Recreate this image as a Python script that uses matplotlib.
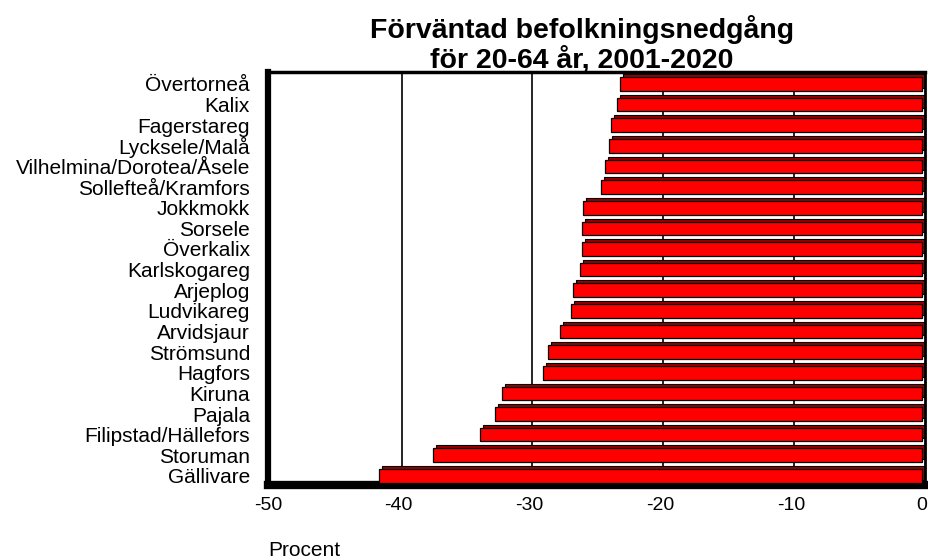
import matplotlib
matplotlib.use("Agg")
import matplotlib.pyplot as plt
import matplotlib.transforms as mtransforms

categories = ["Övertorneå", "Kalix", "Fagerstareg", "Lycksele/Malå",
              "Vilhelmina/Dorotea/Åsele", "Sollefteå/Kramfors", "Jokkmokk",
              "Sorsele", "Överkalix", "Karlskogareg", "Arjeplog", "Ludvikareg",
              "Arvidsjaur", "Strömsund", "Hagfors", "Kiruna", "Pajala",
              "Filipstad/Hällefors", "Storuman", "Gällivare"]
values = [-23.1, -23.3, -23.8, -23.9, -24.2, -24.5, -25.9, -26.0, -26.0, -26.1,
          -26.7, -26.8, -27.7, -28.6, -29.0, -32.1, -32.6, -33.8, -37.4, -41.5]
xticks = [-50, -40, -30, -20, -10, 0]
title = "Förväntad befolkningsnedgång\nför 20-64 år, 2001-2020"
xlabel = "Procent"

plt.rcParams['font.family'] = ['Liberation Sans', 'DejaVu Sans']

fig = plt.figure(figsize=(9.29, 5.6), dpi=100)
ax = fig.add_axes([268/929, 1 - 485/560, (925 - 268)/929, (485 - 72)/560])

n = len(categories)
ypos = [n - 1 - i for i in range(n)]
h = 0.66

ax.set_xlim(-50, 0.25)
ax.set_ylim(-0.44, 19.58)

off = mtransforms.offset_copy(ax.transData, fig=fig, x=3, y=3, units='dots')

# gridlines on back wall
for t in xticks[1:-1]:
    ax.plot([t, t], [-0.44, 19.58], color='black', lw=1.2, zorder=0,
            transform=off, clip_on=True)

# 3D shadow (top and right faces)
ax.barh(ypos, values, height=h, left=0, color='#9b0000', edgecolor='black',
        linewidth=0.8, transform=off, zorder=2)
# front faces
ax.barh(ypos, values, height=h, color='#ff0000', edgecolor='black',
        linewidth=0.9, zorder=3)

ax.set_yticks(ypos)
ax.set_yticklabels(categories, fontsize=15)
ax.set_xticks(xticks)
ax.set_xticklabels([str(t) for t in xticks], fontsize=14)
ax.tick_params(axis='both', length=0)
ax.tick_params(axis='y', pad=13)
ax.tick_params(axis='x', pad=9)

for s in ['left', 'bottom', 'top', 'right']:
    ax.spines[s].set_color('black')
ax.spines['left'].set_linewidth(4.5)
ax.spines['bottom'].set_linewidth(6)
ax.spines['top'].set_linewidth(2.5)
ax.spines['right'].set_linewidth(2)

fig.text(582/929, 1 - 44/560, title, ha='center', va='center',
         fontsize=20.5, fontweight='bold', linespacing=1.1)
fig.text(268/929, 1 - 551/560, xlabel, ha='left', va='center', fontsize=15)

fig.savefig("out.png", dpi=100)
